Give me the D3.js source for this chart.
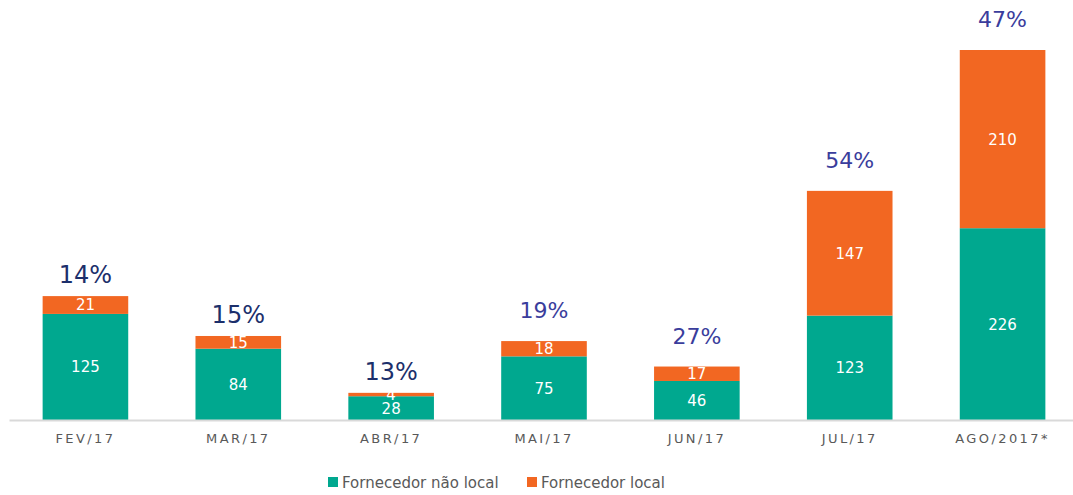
<!DOCTYPE html>
<html>
<head>
<meta charset="utf-8">
<script src="https://cdn.jsdelivr.net/npm/d3@7"></script>
<style>
  body { margin: 0; background: #fff; }
  svg { display: block; }
</style>
</head>
<body>
<div id="chart"></div>
<script>
// data
var months = ["FEV/17", "MAR/17", "ABR/17", "MAI/17", "JUN/17", "JUL/17", "AGO/2017*"];
var naoLocal = [125, 84, 28, 75, 46, 123, 226];
var local = [21, 15, 4, 18, 17, 147, 210];
var pctLabels = ["14%", "15%", "13%", "19%", "27%", "54%", "47%"];
var seriesNames = ["Fornecedor não local", "Fornecedor local"];

var fullWidth = 1073;
var fullHeight = 495;
var baseY = 420;

var teal = "#00a88f";
var orange = "#f26722";
// first three labels are dark navy, the rest a lighter indigo and sit a bit higher
var darkPct = "#1c2f6b", lightPct = "#3a3d9c";

var rows = months.map(function (m, i) {
    return { month: m, a: naoLocal[i], b: local[i], pct: pctLabels[i], dark: i < 3 };
});

var svg = d3.select("#chart").append("svg")
    .attr("width", fullWidth)
    .attr("height", fullHeight);

var x = d3.scaleBand()
    .domain(months)
    .range([9, 1079])
    .paddingInner(0.44)
    .paddingOuter(0.22);

var y = d3.scaleLinear()
    .domain([0, 436])
    .range([baseY, 50]);

var groups = svg.selectAll(".bar").data(rows).enter()
    .append("g").attr("class", "bar");

// bottom segment
groups.append("rect")
    .attr("x", d => x(d.month))
    .attr("width", x.bandwidth())
    .attr("y", d => y(d.a))
    .attr("height", d => y(0) - y(d.a))
    .attr("fill", teal);

// top segment
groups.append("rect")
    .attr("x", d => x(d.month))
    .attr("width", x.bandwidth())
    .attr("y", d => y(d.a + d.b))
    .attr("height", d => y(d.a) - y(d.a + d.b))
    .attr("fill", orange);

var numFont = "'DejaVu Sans', Verdana, sans-serif";

groups.append("text")
    .attr("x", d => x(d.month) + x.bandwidth() / 2)
    .attr("y", d => (y(0) + y(d.a)) / 2)
    .attr("dy", "0.36em")
    .attr("text-anchor", "middle")
    .attr("fill", "#fff")
    .style("font-family", numFont)
    .style("font-size", "15px")
    .text(d => d.a);

groups.append("text")
    .attr("x", d => x(d.month) + x.bandwidth() / 2)
    .attr("y", d => (y(d.a) + y(d.a + d.b)) / 2)
    .attr("dy", "0.36em")
    .attr("text-anchor", "middle")
    .attr("fill", "#fff")
    .style("font-family", numFont)
    .style("font-size", "15px")
    .text(d => d.b);

groups.append("text")
    .attr("x", d => x(d.month) + x.bandwidth() / 2)
    .attr("y", d => y(d.a + d.b) - (d.dark ? 13 : 23))
    .attr("text-anchor", "middle")
    .attr("fill", d => d.dark ? darkPct : lightPct)
    .style("font-family", numFont)
    .style("font-size", d => d.dark ? "24px" : "22px")
    .text(d => d.pct);

// axis
var xAxis = d3.axisBottom(x).tickSize(0).tickPadding(14);
var axisG = svg.append("g")
    .attr("transform", "translate(0," + baseY + ")")
    .call(xAxis);
axisG.select(".domain").attr("stroke", "#d9d9d9").attr("stroke-width", 2);
axisG.selectAll("text")
    .attr("fill", "#595959")
    .style("font-family", numFont)
    .style("font-size", "13px")
    .style("letter-spacing", "2.4px");

// legend
var legend = svg.append("g").attr("transform", "translate(328,483)");
var legItems = [
    { name: seriesNames[0], color: teal, x: 0 },
    { name: seriesNames[1], color: orange, x: 199 }
];
var li = legend.selectAll("g").data(legItems).enter().append("g")
    .attr("transform", d => "translate(" + d.x + ",0)");
li.append("rect")
    .attr("x", 0).attr("y", -6)
    .attr("width", 10).attr("height", 10)
    .attr("fill", d => d.color);
li.append("text")
    .attr("x", 14)
    .attr("y", 0)
    .attr("dy", "0.35em")
    .attr("fill", "#595959")
    .style("font-family", numFont)
    .style("font-size", "15px")
    .text(d => d.name);
</script>
</body>
</html>
